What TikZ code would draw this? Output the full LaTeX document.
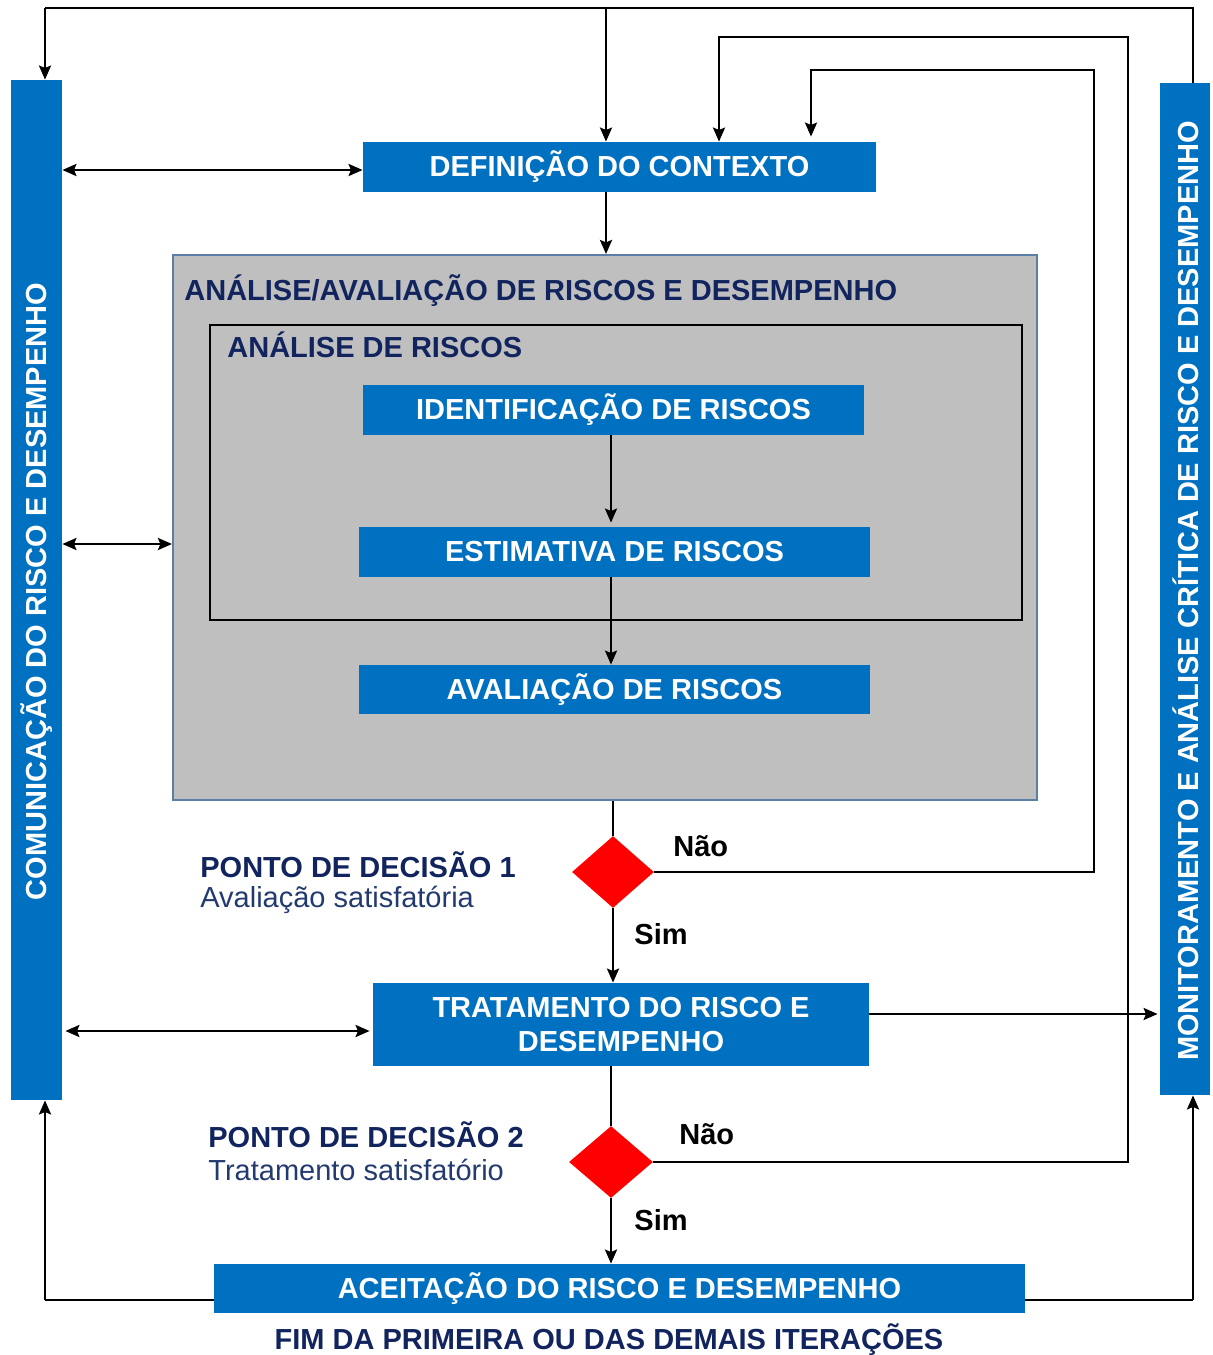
\documentclass[tikz,border=0pt]{standalone}
\usepackage{fontspec}
\setmainfont{Liberation Sans}
\usetikzlibrary{arrows.meta,shapes.geometric}
\definecolor{boxblue}{HTML}{0070C0}
\definecolor{navy}{HTML}{12245E}
\definecolor{navylight}{HTML}{233A70}
\definecolor{panelgray}{HTML}{BFBFBF}
\definecolor{paneledge}{HTML}{5B7FA6}
\definecolor{decred}{HTML}{FF0000}
\newcommand{\lblfont}{\fontsize{14.5}{17}\selectfont}
\begin{document}
\begin{tikzpicture}[x=0.5pt,y=-0.5pt,
  blk/.style={fill=boxblue, text=white, font=\bfseries\lblfont, inner sep=0pt, align=center},
  bartext/.style={text=white, font=\bfseries\lblfont, inner sep=0pt, rotate=90},
  head/.style={text=navy, font=\bfseries\lblfont, inner sep=0pt, anchor=west},
  note/.style={text=navylight, font=\lblfont, inner sep=0pt, anchor=west},
  yesno/.style={text=black, font=\bfseries\lblfont, inner sep=0pt, anchor=west},
  decision/.style={diamond, fill=decred, inner sep=0pt},
  wire/.style={line width=1.25pt, draw=black},
  arr/.style={wire, -{Stealth[length=7pt,width=6pt,inset=1.2pt]}},
  darr/.style={wire, {Stealth[length=7pt,width=6pt,inset=1.2pt]}-{Stealth[length=7pt,width=6pt,inset=1.2pt]}}]
\useasboundingbox (0,0) rectangle (1212,1355);

% side bars
\node[blk, minimum width=25.5pt, minimum height=510pt] (lbar) at (36.5,590) {};
\node[bartext] (lbartxt) at (37,591.5) {COMUNICAÇÃO DO RISCO E DESEMPENHO};
\node[blk, minimum width=25pt, minimum height=506pt] (rbar) at (1185,589) {};
\node[bartext] (rbartxt) at (1186,591) {MONITORAMENTO E ANÁLISE CRÍTICA DE RISCO E DESEMPENHO};

% context
\node[blk, minimum width=256.5pt, minimum height=25pt] (ctx) at (619.5,167) {DEFINIÇÃO DO CONTEXTO};

% analysis / evaluation panel
\node[draw=paneledge, fill=panelgray, line width=1pt, inner sep=0pt,
      minimum width=432pt, minimum height=272.5pt] (gray) at (605,527.5) {};
\node[head] (grayhead) at (184,291) {ANÁLISE/AVALIAÇÃO DE RISCOS E DESEMPENHO};
\node[draw=black, line width=1.3pt, inner sep=0pt,
      minimum width=406pt, minimum height=147.5pt] (inner) at (616,472.5) {};
\node[head] (innerhead) at (227,345) {ANÁLISE DE RISCOS};

\node[blk, minimum width=250.5pt, minimum height=25pt] (ident) at (613.5,410) {IDENTIFICAÇÃO DE RISCOS};
\node[blk, minimum width=255.5pt, minimum height=25pt] (estim) at (614.5,552) {ESTIMATIVA DE RISCOS};
\node[blk, minimum width=255.5pt, minimum height=24.5pt] (aval) at (614.5,689.5) {AVALIAÇÃO DE RISCOS};

% decision 1
\node[decision, minimum width=41pt, minimum height=36pt] (d1) at (613,872) {};
\node[head] (d1title) at (200,865) {PONTO DE DECISÃO 1};
\node[note] (d1note) at (200,899.5) {Avaliação satisfatória};
\node[yesno] (d1no) at (673,846) {Não};
\node[yesno] (d1yes) at (634,934) {Sim};

% treatment
\node[blk, minimum width=248pt, minimum height=41.5pt] (trat) at (621,1024.5) {TRATAMENTO DO RISCO E\\DESEMPENHO};

% decision 2
\node[decision, minimum width=42pt, minimum height=36pt] (d2) at (611,1162) {};
\node[head] (d2title) at (208,1135) {PONTO DE DECISÃO 2};
\node[note] (d2note) at (208,1169.5) {Tratamento satisfatório};
\node[yesno] (d2no) at (679,1134) {Não};
\node[yesno] (d2yes) at (634,1220) {Sim};

% acceptance
\node[blk, minimum width=405.5pt, minimum height=24.5pt] (acei) at (619.5,1288.5) {ACEITAÇÃO DO RISCO E DESEMPENHO};
\node[text=navy, font=\bfseries\lblfont, inner sep=0pt] (fim) at (609,1340) {FIM DA PRIMEIRA OU DAS DEMAIS ITERAÇÕES};

% routing points
\coordinate (tl) at (45,8);
\coordinate (tr) at (1193,8);
\coordinate (tm) at (606,8);
\coordinate (l2a) at (719,37);
\coordinate (l2b) at (1128,37);
\coordinate (l1a) at (811,70);
\coordinate (l1b) at (1094,70);
\coordinate (bl) at (45,1300);
\coordinate (br) at (1193,1300);
\coordinate (mid) at (611,0);
\coordinate (yctx) at (0,170);
\coordinate (ylink) at (0,544);
\coordinate (ytrat) at (0,1031);
\coordinate (ymon) at (0,1014);

% outer feedback from monitoring
\draw[wire] (rbar.north -| tr) -- (tr) -- (tl);
\draw[arr] (tl) -- (tl |- lbar.north);
\draw[arr] (tm) -- (tm |- ctx.north);

% loops back from the decision points
\draw[arr] (d2.east) -- (d2.east -| l2b) -- (l2b) -- (l2a) -- (l2a |- ctx.north);
\draw[arr] (d1.east) -- (d1.east -| l1b) -- (l1b) -- (l1a) -- ([yshift=2.5pt]l1a |- ctx.north);

% communication links
\draw[darr] (lbar.east |- yctx) -- (ctx.west |- yctx);
\draw[darr] (lbar.east |- ylink) -- (gray.west |- ylink);
\draw[darr] ([xshift=1.5pt]lbar.east |- ytrat) -- ([xshift=-1.5pt]trat.west |- ytrat);

% main flow
\draw[arr] (ctx.south -| tm) -- (tm |- gray.north);
\draw[arr] (ident.south -| mid) -- ([yshift=2pt]mid |- estim.north);
\draw[arr] (estim.south -| mid) -- (mid |- aval.north);
\draw[wire] (gray.south -| d1) -- (d1.north);
\draw[arr] (d1.south) -- (d1.south |- trat.north);
\draw[arr] (trat.east |- ymon) -- ([xshift=-1pt]rbar.west |- ymon);
\draw[wire] (trat.south -| d2) -- (d2.north);
\draw[arr] (d2.south) -- (d2.south |- acei.north);

% outputs of acceptance
\draw[wire] (acei.west |- bl) -- (bl);
\draw[arr] (bl) -- (bl |- lbar.south);
\draw[wire] (acei.east |- br) -- (br);
\draw[arr] (br) -- (br |- rbar.south);
\end{tikzpicture}
\end{document}
